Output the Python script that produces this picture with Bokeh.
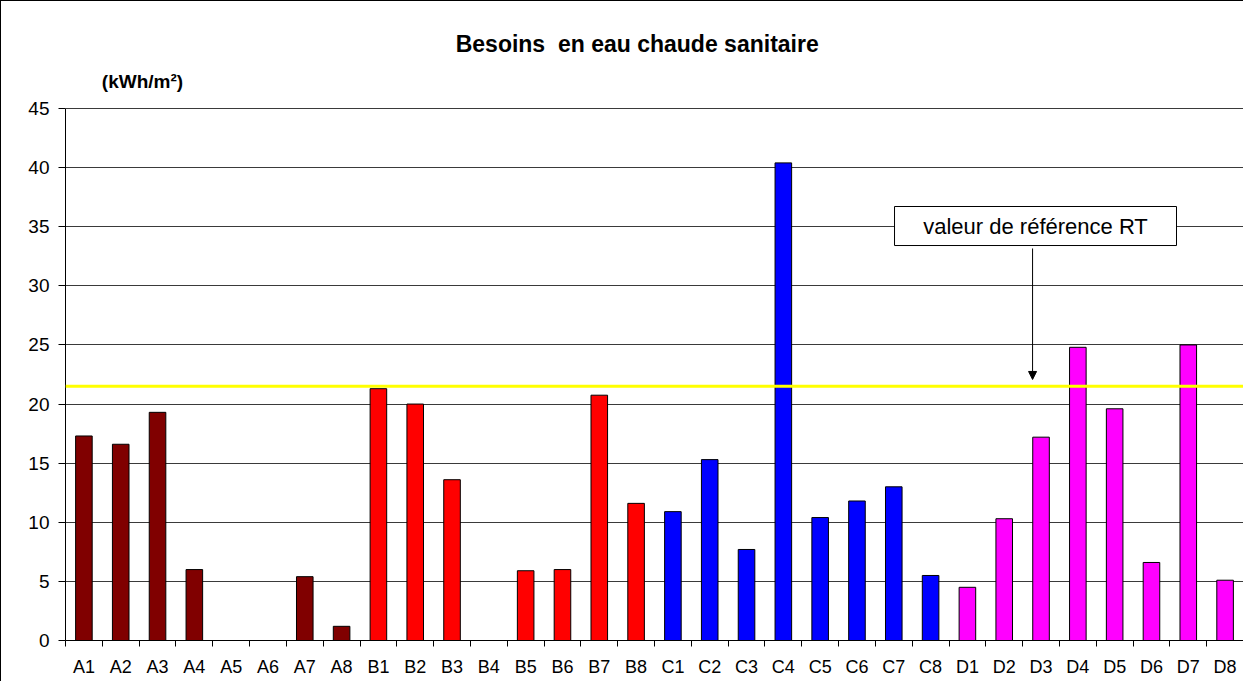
from bokeh.plotting import figure
from bokeh.models import Range1d, FixedTicker, Span, Arrow, NormalHead
from bokeh.core.properties import value
from bokeh.embed import file_html
from bokeh.resources import INLINE

# ---- data ----
categories = ["A1", "A2", "A3", "A4", "A5", "A6", "A7", "A8",
              "B1", "B2", "B3", "B4", "B5", "B6", "B7", "B8",
              "C1", "C2", "C3", "C4", "C5", "C6", "C7", "C8",
              "D1", "D2", "D3", "D4", "D5", "D6", "D7", "D8"]
group_a = [17.3, 16.6, 19.3, 6.0, 0.0, 0.0, 5.4, 1.2]
group_b = [21.3, 20.0, 13.6, 0.0, 5.9, 6.0, 20.75, 11.6]
group_c = [10.9, 15.3, 7.7, 40.4, 10.4, 11.8, 13.0, 5.5]
group_d = [4.5, 10.3, 17.2, 24.8, 19.6, 6.6, 25.0, 5.1]
reference_value = 21.5
y_ticks = [0, 5, 10, 15, 20, 25, 30, 35, 40, 45]
y_max = 45

group_colors = ["#800000", "#FF0000", "#0000FF", "#FF00FF"]
FONT = "Liberation Sans"

# ---- layout (pixels) ----
W, H = 1243, 681
frame_left, frame_right, frame_bottom = 64, 1242, 639
plot_top = 107                       # pixel row of the y_max gridline
px_per_unit = (frame_bottom - plot_top) / y_max
y_top = y_max + plot_top / px_per_unit   # extend range so title area is inside frame

p = figure(width=W, height=H, output_backend="svg", toolbar_location=None,
           x_range=Range1d(0, len(categories)), y_range=Range1d(0, y_top),
           min_border_left=frame_left, min_border_right=W - frame_right,
           min_border_top=0, min_border_bottom=H - frame_bottom)
p.outline_line_color = None
p.background_fill_color = "white"
p.border_fill_color = "white"
p.styles = {"border-left": "1px solid black", "border-top": "1px solid black"}

# bars
groups = [group_a, group_b, group_c, group_d]
for gi, (vals, col) in enumerate(zip(groups, group_colors)):
    xs = [gi * 8 + i + 0.5 for i in range(len(vals))]
    p.vbar(x=xs, top=vals, bottom=0, width=0.45, fill_color=col,
           line_color="black", line_width=1)

# axes
centers = [i + 0.5 for i in range(len(categories))]
bounds = list(range(len(categories) + 1))
p.xaxis.ticker = FixedTicker(ticks=centers, minor_ticks=bounds)
p.xaxis.major_label_overrides = {c: lab for c, lab in zip(centers, categories)}
p.xaxis.major_tick_out = 0
p.xaxis.major_tick_in = 0
p.xaxis.minor_tick_out = 6
p.xaxis.minor_tick_in = 0
p.xaxis.minor_tick_line_color = "black"
p.xaxis.axis_line_color = "black"
p.xaxis.major_label_standoff = 10
p.xaxis.major_label_text_font = FONT
p.xaxis.major_label_text_font_size = "18px"
p.xaxis.major_label_text_color = "black"

p.yaxis.ticker = FixedTicker(ticks=y_ticks)
p.yaxis.bounds = (0, y_max)
p.yaxis.major_tick_out = 7
p.yaxis.major_tick_in = 0
p.yaxis.minor_tick_line_color = None
p.yaxis.axis_line_color = "black"
p.yaxis.major_tick_line_color = "black"
p.yaxis.major_label_standoff = 9
p.yaxis.major_label_text_font = FONT
p.yaxis.major_label_text_font_size = "19px"
p.yaxis.major_label_text_color = "black"

p.xgrid.grid_line_color = None
p.ygrid.grid_line_color = "#3a3a3a"
p.ygrid.grid_line_width = 1

# reference line
p.add_layout(Span(location=reference_value, dimension="width",
                  line_color="#FFFF00", line_width=3))

# annotation box with arrow
box_l, box_r, box_b, box_t = 22.52, 30.18, 33.41, 36.71
p.quad(left=[box_l], right=[box_r], bottom=[box_b], top=[box_t],
       fill_color="white", line_color="black", line_width=1)
p.text(x=[(box_l + box_r) / 2], y=[(box_b + box_t) / 2],
       text=["valeur de référence RT"], text_font=value(FONT),
       text_font_size="22px", text_align="center", text_baseline="middle",
       text_color="black")
p.add_layout(Arrow(end=NormalHead(size=8, fill_color="black", line_color="black"),
                   x_start=26.27, y_start=33.16, x_end=26.27, y_end=22.08,
                   line_color="black", line_width=1))

# title and unit label (double space kept with a no-break space)
p.text(x=[15.53], y=[50.46], text=["Besoins\u00a0 en eau chaude sanitaire"],
       text_font=value(FONT), text_font_size="23px", text_font_style="bold",
       text_align="center", text_baseline="middle", text_color="black")
p.text(x=[2.09], y=[47.28], text=["(kWh/m²)"],
       text_font=value(FONT), text_font_size="19px", text_font_style="bold",
       text_align="center", text_baseline="middle", text_color="black")

open("out.html", "w").write(file_html(p, INLINE))
